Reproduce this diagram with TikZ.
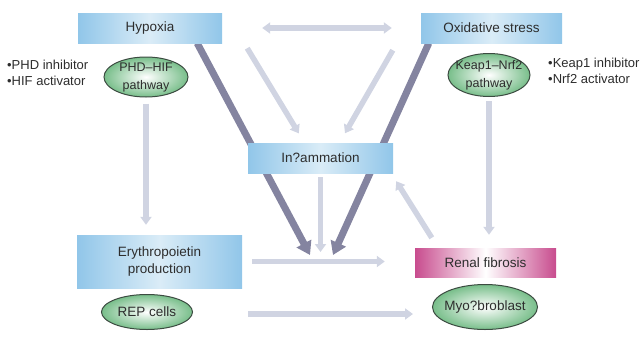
\documentclass[tikz,border=0pt]{standalone}
\usepackage{fontspec}
\setmainfont{Liberation Sans}
\usetikzlibrary{shapes.geometric,arrows.meta,calc,backgrounds}
\definecolor{boxblue}{RGB}{145,198,233}
\definecolor{boxblueL}{RGB}{218,236,247}
\definecolor{pinkbox}{RGB}{200,76,142}
\definecolor{ellgreen}{RGB}{120,190,138}
\definecolor{ellline}{RGB}{60,75,65}
\definecolor{lightarrow}{RGB}{208,212,226}
\definecolor{darkarrow}{RGB}{132,132,160}
\definecolor{txt}{RGB}{45,45,45}
\begin{document}
\begin{tikzpicture}[x=1pt,y=-1pt,
  every node/.style={font=\fontsize{13.5}{16.5}\selectfont, text=txt},
  bluebox/.style={rectangle, inner sep=0pt, left color=boxblue, right color=boxblue, middle color=boxblueL},
  pinkrect/.style={rectangle, inner sep=0pt, left color=pinkbox, right color=pinkbox, middle color=white},
  ellnode/.style={ellipse, draw=ellline, line width=1pt, inner sep=0pt, inner color=white, outer color=ellgreen},
  elltext/.style={align=center, font=\fontsize{12.5}{18}\selectfont},
  sidetext/.style={anchor=west, align=left, inner sep=0pt, font=\fontsize{13}{16.5}\selectfont},
  lightarr/.style={draw=lightarrow, line width=5.5pt, -{Triangle[width=11pt,length=8pt]}},
  darkarr/.style={draw=darkarrow, line width=7pt, -{Triangle[width=16pt,length=13pt]}}
]
\useasboundingbox (0,0) rectangle (642,343);

% boxes
\node[bluebox, minimum width=144pt, minimum height=30pt] (hyp) at (150,28) {Hypoxia};
\node[bluebox, minimum width=141pt, minimum height=30pt] (ox) at (491.5,28) {Oxidative stress};
\node[bluebox, minimum width=145pt, minimum height=30pt] (infl) at (320.5,158) {In?ammation};
\node[bluebox, minimum width=165pt, minimum height=53pt, align=center] (epo) at (159.5,261.5) {Erythropoietin\\production};
\node[pinkrect, minimum width=141pt, minimum height=29pt] (renal) at (485.5,262.5) {Renal fibrosis};

% ellipses
\node[ellnode, minimum width=84pt, minimum height=40pt] (phd) at (146,77) {};
\node[elltext] (phdt) at (phd) {PHD–HIF\\pathway};
\node[ellnode, minimum width=82pt, minimum height=43pt] (keap) at (489,75) {};
\node[elltext] (keapt) at (keap) {Keap1–Nrf2\\pathway};
\node[ellnode, minimum width=91pt, minimum height=35pt] (rep) at (147,312) {};
\node (rept) at (rep) {REP cells};
\node[ellnode, minimum width=105pt, minimum height=45pt] (myo) at (485,307) {};
\node (myot) at (myo) {Myo?broblast};

% side texts
\node[sidetext] (ltxt) at (7,73) {•PHD inhibitor\\•HIF activator};
\node[sidetext] (rtxt) at (548,71) {•Keap1 inhibitor\\•Nrf2 activator};

% free ends
\coordinate (dL) at (310,255);
\coordinate (dR) at (333,255);
\coordinate (dM) at (320.5,252);

\begin{scope}[on background layer]
  % light arrows
  \draw[lightarr, {Triangle[width=11pt,length=8pt]}-{Triangle[width=11pt,length=8pt]}, shorten <=40pt, shorten >=29pt] (hyp.east) -- (ox.west);
  \draw[lightarr, shorten >=11pt] ($(hyp.south east)+(25,5)$) -- ([xshift=-16pt]infl.north);
  \draw[lightarr, shorten >=11pt] ($(ox.south west)+(-28,7)$) -- ([xshift=19pt]infl.north);
  \draw[lightarr, shorten <=4pt] (infl.south) -- (dM);
  \draw[lightarr, shorten <=10pt, shorten >=30pt] (epo.east) -- (epo.east -| renal.west);
  \draw[lightarr] ($(rep.east)+(55,2)$) -- ($(myo.west)+(-19,7)$);
  \draw[lightarr] ($(renal.north west)+(17,-10)$) -- ($(infl.south east)+(3,8)$);
  \draw[lightarr, shorten <=4pt, shorten >=13pt] (keap.south) -- (keap.south |- renal.north);
  \draw[lightarr, shorten <=6pt, shorten >=10pt] (phd.south) -- (phd.south |- epo.north);
  % dark arrows
  \draw[darkarr] ($(hyp.south east)+(-25,0)$) -- (dL);
  \draw[darkarr] ($(ox.south west)+(8,0)$) -- (dR);
\end{scope}
\end{tikzpicture}
\end{document}
